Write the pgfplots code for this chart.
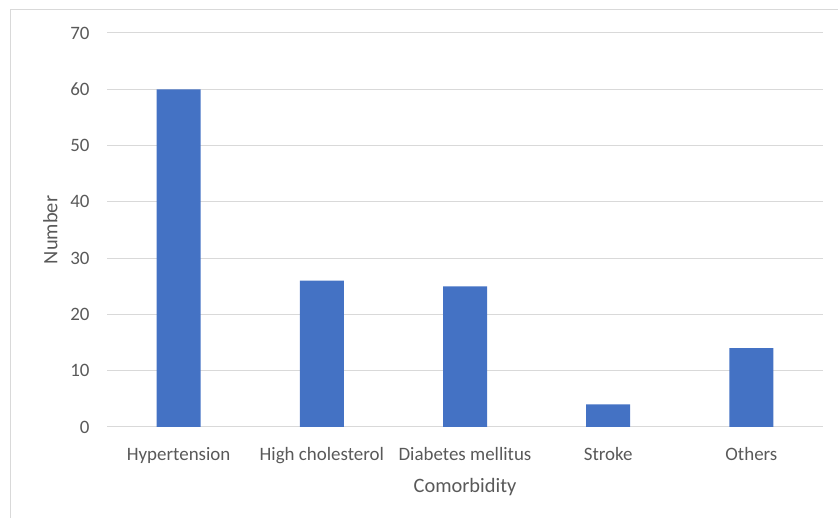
\documentclass[border=0pt]{standalone}
\usepackage{pgfplots}
\pgfplotsset{compat=1.18}
\usepackage{fontspec}
\setmainfont{Carlito}
\definecolor{barblue}{HTML}{4472C4}
\definecolor{txtgray}{HTML}{595959}
\definecolor{gridgray}{HTML}{D9D9D9}
\begin{document}
\begin{tikzpicture}[x=1bp,y=1bp]
\useasboundingbox (0,0) rectangle (838,518);
% chart frame
\draw[gridgray, line width=1bp] (10,-10) -- (10,508) -- (850,508);
\begin{axis}[
  at={(107bp,91bp)}, anchor=south west,
  scale only axis, width=716bp, height=394bp,
  xmin=-0.5, xmax=4.5, ymin=0, ymax=70,
  ytick={0,10,...,70},
  xtick=data,
  xticklabels={Hypertension,High cholesterol,Diabetes mellitus,Stroke,Others},
  axis line style={draw=none},
  axis x line*=bottom,
  major tick length=0pt,
  ymajorgrids, grid style={gridgray, line width=1bp},
  tick label style={font=\fontsize{19}{22}\selectfont, text=txtgray},
  /pgf/number format/assume math mode=true,
  yticklabel style={xshift=-14bp},
  xticklabel style={yshift=-17bp},
  xlabel={Comorbidity}, ylabel={Number},
  label style={font=\fontsize{20.5}{24}\selectfont, text=txtgray},
  xlabel style={yshift=-8bp},
  ylabel style={yshift=6bp},
  clip=false,
]
\draw[gridgray, line width=1bp] (axis cs:-0.5,0) -- (axis cs:4.5,0);
\addplot[ybar, bar width=44bp, fill=barblue, draw=none] coordinates {
  (0,60) (1,26) (2,25) (3,4) (4,14)
};
\end{axis}
\end{tikzpicture}
\end{document}
